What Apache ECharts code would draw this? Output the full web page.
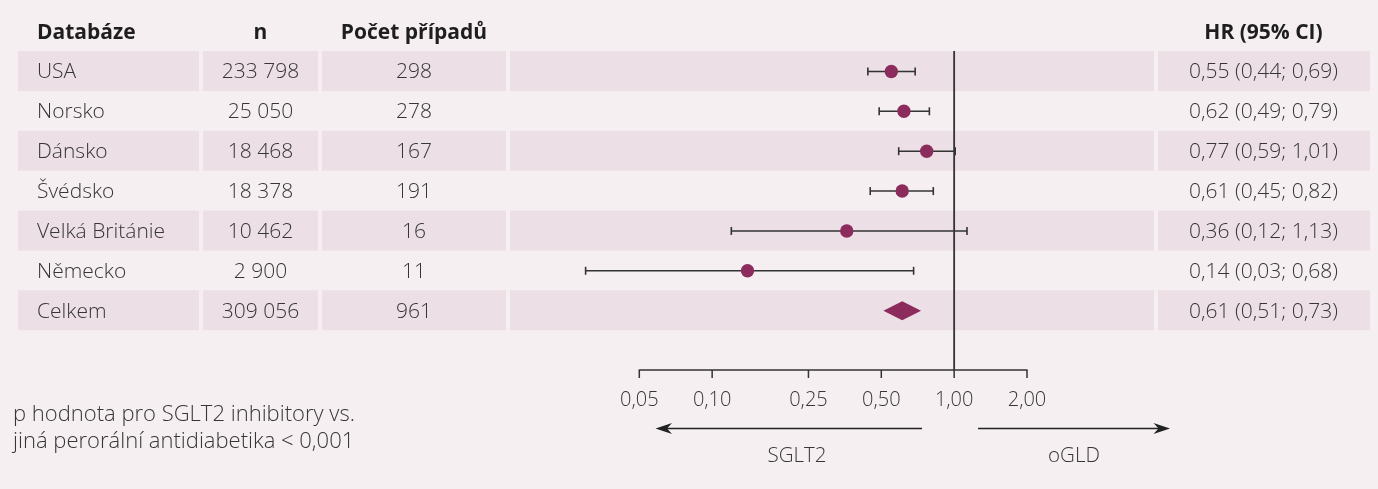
<!DOCTYPE html>
<html><head><meta charset="utf-8">
<script src="https://cdn.jsdelivr.net/npm/echarts@6/dist/echarts.min.js"></script>
<style>html,body{margin:0;padding:0;background:#f5eff2;}#chart{width:1378px;height:489px;}</style>
</head><body><div id="chart"></div>
<script>
// ---- data ----
const databaze = ['USA', 'Norsko', 'Dánsko', 'Švédsko', 'Velká Británie', 'Německo', 'Celkem'];
const nValues = [233798, 25050, 18468, 18378, 10462, 2900, 309056];
const pocetPripadu = [298, 278, 167, 191, 16, 11, 961];
const hrValues = [0.55, 0.62, 0.77, 0.61, 0.36, 0.14, 0.61];
const ciLow = [0.44, 0.49, 0.59, 0.45, 0.12, 0.03, 0.51];
const ciHigh = [0.69, 0.79, 1.01, 0.82, 1.13, 0.68, 0.73];
const tickValues = [0.05, 0.10, 0.25, 0.50, 1.00, 2.00];
const referenceValue = 1;
const headers = ['Databáze', 'n', 'Počet případů', 'HR (95% CI)'];
const footnote = ['p hodnota pro SGLT2 inhibitory vs.', 'jiná perorální antidiabetika < 0,001'];
const directionLabels = ['SGLT2', 'oGLD'];

// ---- helpers / layout ----
const fmtNum = v => String(v).replace(/\B(?=(\d{3})+(?!\d))/g, ' ');
const fmtDec = v => v.toFixed(2).replace('.', ',');
const FONT = '"Open Sans", sans-serif';
const TXT = '#363636';
const HEAD = '#1e1e1e';
const BAND = '#ecdfe5';
const MARK = '#8c2c5c';
const LINE = '#333333';
const COLS = [
  {x0: 18, x1: 199, align: 'left', tx: 37},
  {x0: 203, x1: 318, align: 'center', tx: 260.5},
  {x0: 322, x1: 506, align: 'center', tx: 414},
  {x0: 510, x1: 1154, align: null},
  {x0: 1158, x1: 1370, align: 'center', tx: 1263.5}
];
const headerCols = [0, 1, 2, 4];
const rowNames = databaze.concat(['']);
const TEXT_DY = 1.5;

function txt(text, x, y, align, font, fill) {
  return {type: 'text', x: x, y: y, style: {text: text, font: font, fill: fill,
    align: align, textAlign: align, verticalAlign: 'middle', textVerticalAlign: 'middle'}};
}

const chart = echarts.init(document.getElementById('chart'), null, {renderer: 'canvas'});

const option = {
  backgroundColor: '#f5eff2',
  animation: false,
  grid: {left: 639.3, right: 351, top: 51, height: 319},
  xAxis: {
    type: 'log', logBase: 10, min: 0.05, max: 2,
    axisLine: {show: true, onZero: false, lineStyle: {color: LINE, width: 1.5}},
    axisTick: {show: false}, axisLabel: {show: false}, splitLine: {show: false}
  },
  yAxis: {
    type: 'category', inverse: true, data: rowNames,
    axisLine: {show: false}, axisTick: {show: false}, axisLabel: {show: false}, splitLine: {show: false}
  },
  series: [
    {
      type: 'custom', name: 'table', z: 1, silent: true, clip: false,
      data: databaze.map((name, i) => [1, name]),
      encode: {x: 0, y: 1},
      renderItem: function (params, api) {
        const i = params.dataIndex;
        const cy = api.coord([1, rowNames[i]])[1];
        const h = api.coord([1, rowNames[i + 1]])[1] - cy;
        const children = [];
        if (i % 2 === 0) {
          COLS.forEach(c => children.push({type: 'rect', shape: {x: c.x0, y: cy - h / 2, width: c.x1 - c.x0, height: h},
            style: {fill: BAND}}));
        }
        const f = '300 21px ' + FONT;
        const ty = cy + TEXT_DY;
        children.push(txt(databaze[i], COLS[0].tx, ty, 'left', f, TXT));
        children.push(txt(fmtNum(nValues[i]), COLS[1].tx, ty, 'center', f, TXT));
        children.push(txt(String(pocetPripadu[i]), COLS[2].tx, ty, 'center', f, TXT));
        children.push(txt(fmtDec(hrValues[i]) + ' (' + fmtDec(ciLow[i]) + '; ' + fmtDec(ciHigh[i]) + ')',
          COLS[4].tx, ty, 'center', f, TXT));
        if (i === 0) {
          headers.forEach((hd, k) => {
            const c = COLS[headerCols[k]];
            children.push(txt(hd, c.tx, ty - h + 0.5, c.align, 'bold 21px ' + FONT, HEAD));
          });
        }
        return {type: 'group', children: children};
      }
    },
    {
      type: 'custom', name: 'axis', z: 3, silent: true, clip: false,
      data: [[referenceValue, rowNames[0]]],
      encode: {x: 0, y: 1},
      renderItem: function (params, api) {
        const cs = params.coordSys;
        const yb = cs.y + cs.height;
        const xr = api.coord([referenceValue, rowNames[0]])[0];
        const children = [
          {type: 'line', shape: {x1: xr, y1: cs.y, x2: xr, y2: yb}, style: {stroke: LINE, lineWidth: 1.8}}
        ];
        tickValues.forEach(t => {
          const x = api.coord([t, rowNames[0]])[0];
          children.push({type: 'line', shape: {x1: x, y1: yb, x2: x, y2: yb + 8}, style: {stroke: LINE, lineWidth: 1.5}});
          children.push(txt(fmtDec(t), x, yb + 30, 'center', '300 20px ' + FONT, TXT));
        });
        return {type: 'group', children: children};
      }
    },
    {
      type: 'custom', name: 'forest', z: 5, silent: true, clip: false,
      data: hrValues.map((v, i) => [ciLow[i], v, ciHigh[i], databaze[i]]),
      encode: {x: [0, 1, 2], y: 3},
      renderItem: function (params, api) {
        const i = params.dataIndex;
        const row = databaze[i];
        const lo = api.coord([ciLow[i], row]);
        const mid = api.coord([hrValues[i], row]);
        const hi = api.coord([ciHigh[i], row]);
        const cy = mid[1] + 0.5;
        if (i === databaze.length - 1) {
          return {type: 'polygon', shape: {points: [[lo[0], cy], [mid[0], cy - 9.5], [hi[0], cy], [mid[0], cy + 9.5]]},
            style: {fill: MARK}};
        }
        const ls = {stroke: LINE, lineWidth: 1.6};
        return {type: 'group', children: [
          {type: 'line', shape: {x1: lo[0], y1: cy, x2: hi[0], y2: cy}, style: ls},
          {type: 'line', shape: {x1: lo[0], y1: cy - 4, x2: lo[0], y2: cy + 4}, style: ls},
          {type: 'line', shape: {x1: hi[0], y1: cy - 4, x2: hi[0], y2: cy + 4}, style: ls},
          {type: 'circle', shape: {cx: mid[0], cy: cy, r: 6.7}, style: {fill: MARK}}
        ]};
      }
    }
  ],
  graphic: [
    {type: 'line', shape: {x1: 922, y1: 428.5, x2: 660, y2: 428.5}, style: {stroke: '#222', lineWidth: 1.5}},
    {type: 'polygon', shape: {points: [[655.5, 428.5], [672, 423], [667, 428.5], [672, 434]]}, style: {fill: '#222'}},
    {type: 'line', shape: {x1: 978, y1: 428.5, x2: 1165, y2: 428.5}, style: {stroke: '#222', lineWidth: 1.5}},
    {type: 'polygon', shape: {points: [[1170, 428.5], [1153.5, 423], [1158.5, 428.5], [1153.5, 434]]}, style: {fill: '#222'}},
    {type: 'text', x: 797, y: 456, style: {text: directionLabels[0], font: '300 20.5px ' + FONT, fill: TXT,
      align: 'center', textAlign: 'center', verticalAlign: 'middle', textVerticalAlign: 'middle'}},
    {type: 'text', x: 1074, y: 456, style: {text: directionLabels[1], font: '300 20.5px ' + FONT, fill: TXT,
      align: 'center', textAlign: 'center', verticalAlign: 'middle', textVerticalAlign: 'middle'}},
    {type: 'text', x: 13, y: 415, style: {text: footnote[0], font: '300 22px ' + FONT, fill: TXT,
      align: 'left', textAlign: 'left', verticalAlign: 'middle', textVerticalAlign: 'middle'}},
    {type: 'text', x: 13, y: 442, style: {text: footnote[1], font: '300 22px ' + FONT, fill: TXT,
      align: 'left', textAlign: 'left', verticalAlign: 'middle', textVerticalAlign: 'middle'}}
  ]
};
chart.setOption(option);
</script>
</body></html>
